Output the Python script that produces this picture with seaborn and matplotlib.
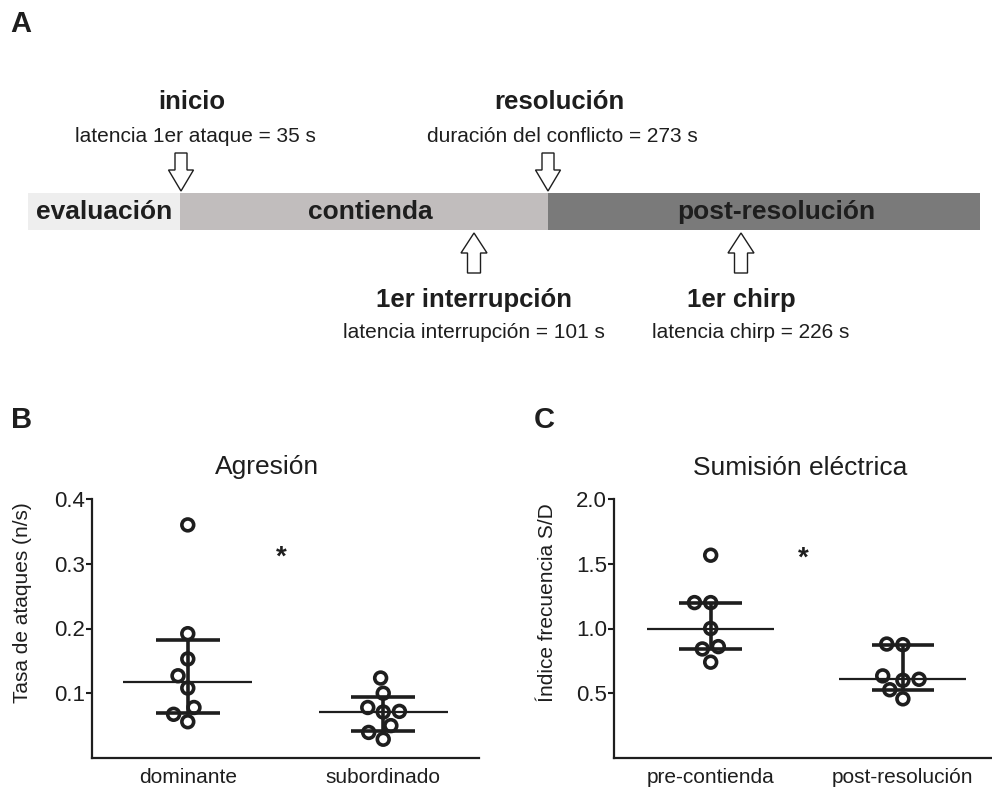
import numpy as np
import pandas as pd
import matplotlib
matplotlib.use("Agg")
import matplotlib.pyplot as plt
import seaborn as sns

# ---------------- data ----------------
# Panel A: schematic timeline (schematic positions, not to scale)
phase_names = ["evaluación", "contienda", "post-resolución"]
phase_edges = [28, 180, 548, 980]
phase_colors = ["#eeeeee", "#c1bdbd", "#7a7a7a"]
events_top = ["inicio", "resolución"]
events_top_text = ["latencia 1er ataque = 35 s", "duración del conflicto = 273 s"]
events_top_pos = [181, 548]
events_bottom = ["1er interrupción", "1er chirp"]
events_bottom_text = ["latencia interrupción = 101 s", "latencia chirp = 226 s"]
events_bottom_pos = [474, 741]

# Panel B: Agresión
b_categories = ["dominante", "subordinado"]
b_dominante = [0.360, 0.192, 0.153, 0.127, 0.108, 0.078, 0.0675, 0.056]
b_subordinado = [0.1235, 0.100, 0.078, 0.072, 0.071, 0.050, 0.0395, 0.029]
b_yticks = [0.1, 0.2, 0.3, 0.4]

# Panel C: Sumisión eléctrica
c_categories = ["pre-contienda", "post-resolución"]
c_pre = [1.566, 1.200, 1.200, 1.000, 0.860, 0.842, 0.740]
c_post = [0.880, 0.875, 0.634, 0.608, 0.600, 0.527, 0.457]
c_yticks = [0.5, 1.0, 1.5, 2.0]

# ---------------- style ----------------
sns.set_style("ticks")
plt.rcParams["font.family"] = ["Liberation Sans", "DejaVu Sans"]
INK = "#1e1e1e"

W, H = 992, 793
fig = plt.figure(figsize=(W / 100, H / 100), dpi=100)

# overlay axes in pixel units for panel A and labels
ov = fig.add_axes([0, 0, 1, 1], zorder=0)
ov.set_xlim(0, W)
ov.set_ylim(H, 0)
ov.axis("off")

# ----- Panel A -----
bar_top, bar_bot = 193, 230
for name, x0, x1, col in zip(phase_names, phase_edges[:-1], phase_edges[1:], phase_colors):
    ov.barh((bar_top + bar_bot) / 2, x1 - x0, left=x0, height=bar_bot - bar_top,
            color=col, edgecolor="none")
label_x = [104, 370, 776]
for name, lx in zip(phase_names, label_x):
    ov.text(lx, 219, name, ha="center", va="baseline", fontsize=19,
            fontweight="bold", color=INK)

for name, txt, x in zip(events_top, events_top_text, events_top_pos):
    ov.text(x + 11, 109, name, ha="center", va="baseline", fontsize=18.5,
            fontweight="bold", color=INK)
    ov.text(x + 14, 142, txt, ha="center", va="baseline", fontsize=15, color=INK)
    ov.arrow(x, 153, 0, 38, width=12, head_width=25, head_length=21,
             length_includes_head=True, fc="white", ec=INK, lw=1.0)

for name, txt, x in zip(events_bottom, events_bottom_text, events_bottom_pos):
    ov.text(x, 307, name, ha="center", va="baseline", fontsize=18.5,
            fontweight="bold", color=INK)
    ov.text(x + (0 if x < 600 else 10), 338, txt, ha="center", va="baseline",
            fontsize=15, color=INK)
    ov.arrow(x, 273, 0, -40, width=13, head_width=26, head_length=20,
             length_includes_head=True, fc="white", ec=INK, lw=1.0)

# panel letters
ov.text(10, 32, "A", fontsize=21, fontweight="bold", color=INK, va="baseline")
ov.text(11, 428, "B", fontsize=21, fontweight="bold", color=INK, va="baseline")
ov.text(534, 428, "C", fontsize=21, fontweight="bold", color=INK, va="baseline")

# titles
ov.text(267, 474, "Agresión", ha="center", va="baseline", fontsize=19, color=INK)
ov.text(800, 475, "Sumisión eléctrica", ha="center", va="baseline", fontsize=19, color=INK)


def scatter_panel(ax, cats, groups, ylim, yticks, ylabel, star_y):
    df = pd.DataFrame({
        "grupo": np.concatenate([[c] * len(g) for c, g in zip(cats, groups)]),
        "valor": np.concatenate(groups),
    })
    sns.swarmplot(data=df, x="grupo", y="valor", order=cats, ax=ax, size=8.5,
                  color=INK, edgecolor=INK, linewidth=2.6, zorder=3)
    for coll in ax.collections:
        coll.set_facecolor("none")
        coll.set_edgecolor(INK)
    for i, g in enumerate(groups):
        g = np.asarray(g)
        med = np.median(g)
        q1, q3 = np.percentile(g, [25, 75], method="weibull")
        ax.hlines(med, i - 0.33, i + 0.33, color=INK, lw=1.6, zorder=2)
        ax.hlines([q1, q3], i - 0.163, i + 0.163, color=INK, lw=2.6, zorder=2)
        ax.vlines(i, q1, q3, color=INK, lw=2.6, zorder=2)
    ax.text(0.48, star_y, "*", ha="center", va="center", fontsize=20,
            fontweight="bold", color=INK)
    ax.set_ylim(*ylim)
    ax.set_yticks(yticks)
    ax.set_yticklabels([f"{t:.1f}" for t in yticks])
    ax.set_xlabel("")
    ax.set_ylabel(ylabel, fontsize=15, color=INK)
    ax.yaxis.label.set_verticalalignment("center")
    ax.tick_params(axis="y", length=4, width=1.5, pad=1, labelsize=16, colors=INK)
    ax.tick_params(axis="x", length=0, pad=7, labelsize=15, colors=INK)
    for s in ["top", "right"]:
        ax.spines[s].set_visible(False)
    for s in ["left", "bottom"]:
        ax.spines[s].set_linewidth(1.6)
        ax.spines[s].set_color(INK)
    ax.patch.set_alpha(0)


ax_b = fig.add_axes([92 / W, 1 - 758 / H, (479 - 92) / W, 259 / H], zorder=2)
scatter_panel(ax_b, b_categories, [b_dominante, b_subordinado], (0, 0.4), b_yticks,
              "Tasa de ataques (n/s)", 0.309)
ax_b.set_xlim(-0.49, 1.49)
ax_b.yaxis.set_label_coords(-0.18, 0.60)

ax_c = fig.add_axes([614 / W, 1 - 758 / H, (999 - 614) / W, 259 / H], zorder=2)
scatter_panel(ax_c, c_categories, [c_pre, c_post], (0, 2.0), c_yticks,
              "Índice frecuencia S/D", 1.54)
ax_c.set_xlim(-0.503, 1.5)
ax_c.yaxis.set_label_coords(-0.174, 0.598)

fig.savefig("out.png", dpi=100)
